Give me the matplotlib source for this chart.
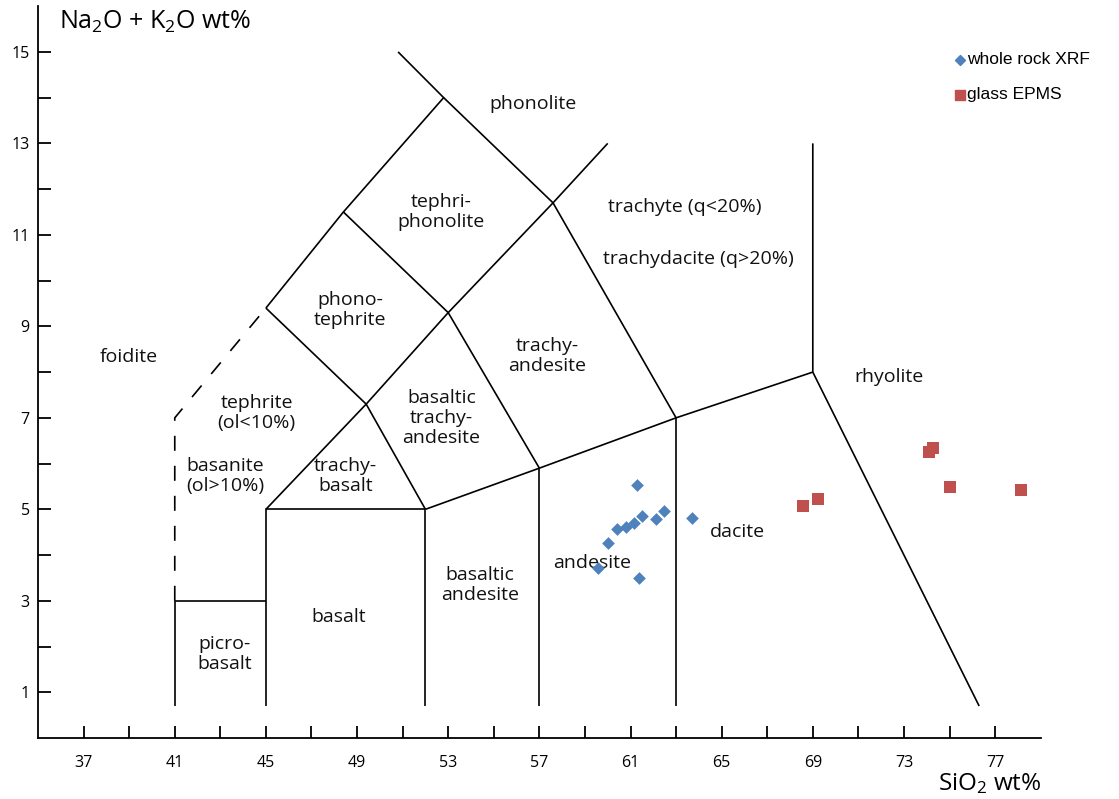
import numpy as np
import matplotlib
matplotlib.use('Agg')
import matplotlib.pyplot as plt

# TAS field boundaries (SiO2, Na2O+K2O), solid segments
boundary_lines = [
    [(41, 0.7), (41, 3), (45, 3)],
    [(45, 0.7), (45, 5), (52, 5), (52, 0.7)],
    [(57, 0.7), (57, 5.9)],
    [(63, 0.7), (63, 7)],
    [(52, 5), (57, 5.9), (63, 7), (69, 8), (69, 13)],
    [(69, 8), (76.3, 0.7)],
    [(45, 5), (49.4, 7.3), (53, 9.3), (57.6, 11.7), (60, 13)],
    [(52, 5), (49.4, 7.3), (45, 9.4)],
    [(57, 5.9), (53, 9.3), (48.4, 11.5)],
    [(63, 7), (57.6, 11.7), (52.8, 14)],
    [(45, 9.4), (48.4, 11.5), (52.8, 14), (50.8, 15)],
]
dashed_line = [(41, 3), (41, 7), (45, 9.4)]

field_names = ['foidite', 'tephrite\n(ol<10%)', 'basanite\n(ol>10%)', 'picro-\nbasalt',
               'basalt', 'basaltic\nandesite', 'andesite', 'dacite', 'rhyolite',
               'trachy-\nbasalt', 'basaltic\ntrachy-\nandesite', 'trachy-\nandesite',
               'phono-\ntephrite', 'tephri-\nphonolite', 'phonolite',
               'trachyte (q<20%)', 'trachydacite (q>20%)']
field_x = [39.0, 44.6, 43.2, 43.2, 48.2, 54.4, 59.3, 65.7, 72.35,
           48.5, 52.7, 57.35, 48.7, 52.7, 56.7, 63.4, 64.0]
field_y = [8.33, 7.1, 5.73, 1.83, 2.64, 3.34, 3.82, 4.5, 7.9,
           5.73, 7.0, 8.35, 9.36, 11.5, 13.87, 11.6, 10.47]

# whole rock XRF
xrf_sio2 = [61.28, 60.4, 60.82, 61.17, 61.52, 62.12, 62.48, 63.68, 60.03, 59.56, 61.36]
xrf_alk = [5.53, 4.57, 4.62, 4.70, 4.85, 4.78, 4.97, 4.81, 4.26, 3.72, 3.49]

# glass EPMS
epms_sio2 = [68.57, 69.21, 74.11, 74.29, 75.04, 78.14]
epms_alk = [5.08, 5.22, 6.26, 6.33, 5.49, 5.42]

x_ticks = np.arange(37, 79, 2)
x_labels = [str(t) if (t - 37) % 4 == 0 else '' for t in x_ticks]
y_ticks = np.arange(1, 16, 1)
y_labels = [str(t) if t % 2 == 1 else '' for t in y_ticks]

plt.rcParams['font.family'] = ['Open Sans', 'DejaVu Sans']
plt.rcParams['mathtext.fontset'] = 'custom'
plt.rcParams['mathtext.rm'] = 'Open Sans'
plt.rcParams['mathtext.it'] = 'Open Sans'

fig = plt.figure(figsize=(11.19, 7.99), dpi=100)
ax = fig.add_axes([0.034, 0.0763, 0.896, 0.916])

for seg in boundary_lines:
    xs, ys = zip(*seg)
    ax.plot(xs, ys, color='black', lw=1.2, solid_capstyle='butt')
xs, ys = zip(*dashed_line)
ax.plot(xs, ys, color='black', lw=1.2, dashes=(9, 9))

for name, fx, fy in zip(field_names, field_x, field_y):
    ax.text(fx, fy, name, ha='center', va='center', fontsize=14,
            linespacing=1.15, color='#111111')

ax.scatter(xrf_sio2, xrf_alk, marker='D', s=42, color='#4F81BD', zorder=3,
           linewidths=0)
ax.scatter(epms_sio2, epms_alk, marker='s', s=85, color='#C0504D', zorder=3,
           linewidths=0)

# legend drawn by hand like the original
ax.scatter([75.46], [14.83], marker='D', s=26, color='#4F81BD', clip_on=False)
ax.text(75.75, 14.83, 'whole rock XRF', fontsize=12.5, va='center',
        family=['Liberation Sans'])
ax.scatter([75.46], [14.06], marker='s', s=50, color='#C0504D', clip_on=False)
ax.text(75.75, 14.06, 'glass EPMS', fontsize=12.5, va='center',
        family=['Liberation Sans'])

ax.set_xlim(35, 79)
ax.set_ylim(0, 16)
ax.set_xticks(x_ticks)
ax.set_xticklabels(x_labels)
ax.set_yticks(y_ticks)
ax.set_yticklabels(y_labels)
ax.tick_params(direction='in', length=9, width=1.3, labelsize=11.5, pad=12)
ax.tick_params(axis='y', pad=6)

for side in ['top', 'right']:
    ax.spines[side].set_visible(False)
for side in ['left', 'bottom']:
    ax.spines[side].set_linewidth(1.3)

fig.text(0.053, 0.972, 'Na$_2$O + K$_2$O wt%', fontsize=18, va='center')
fig.text(0.838, 0.004, 'SiO$_2$ wt%', fontsize=17.5, va='bottom')

fig.savefig('out.png', dpi=100)
